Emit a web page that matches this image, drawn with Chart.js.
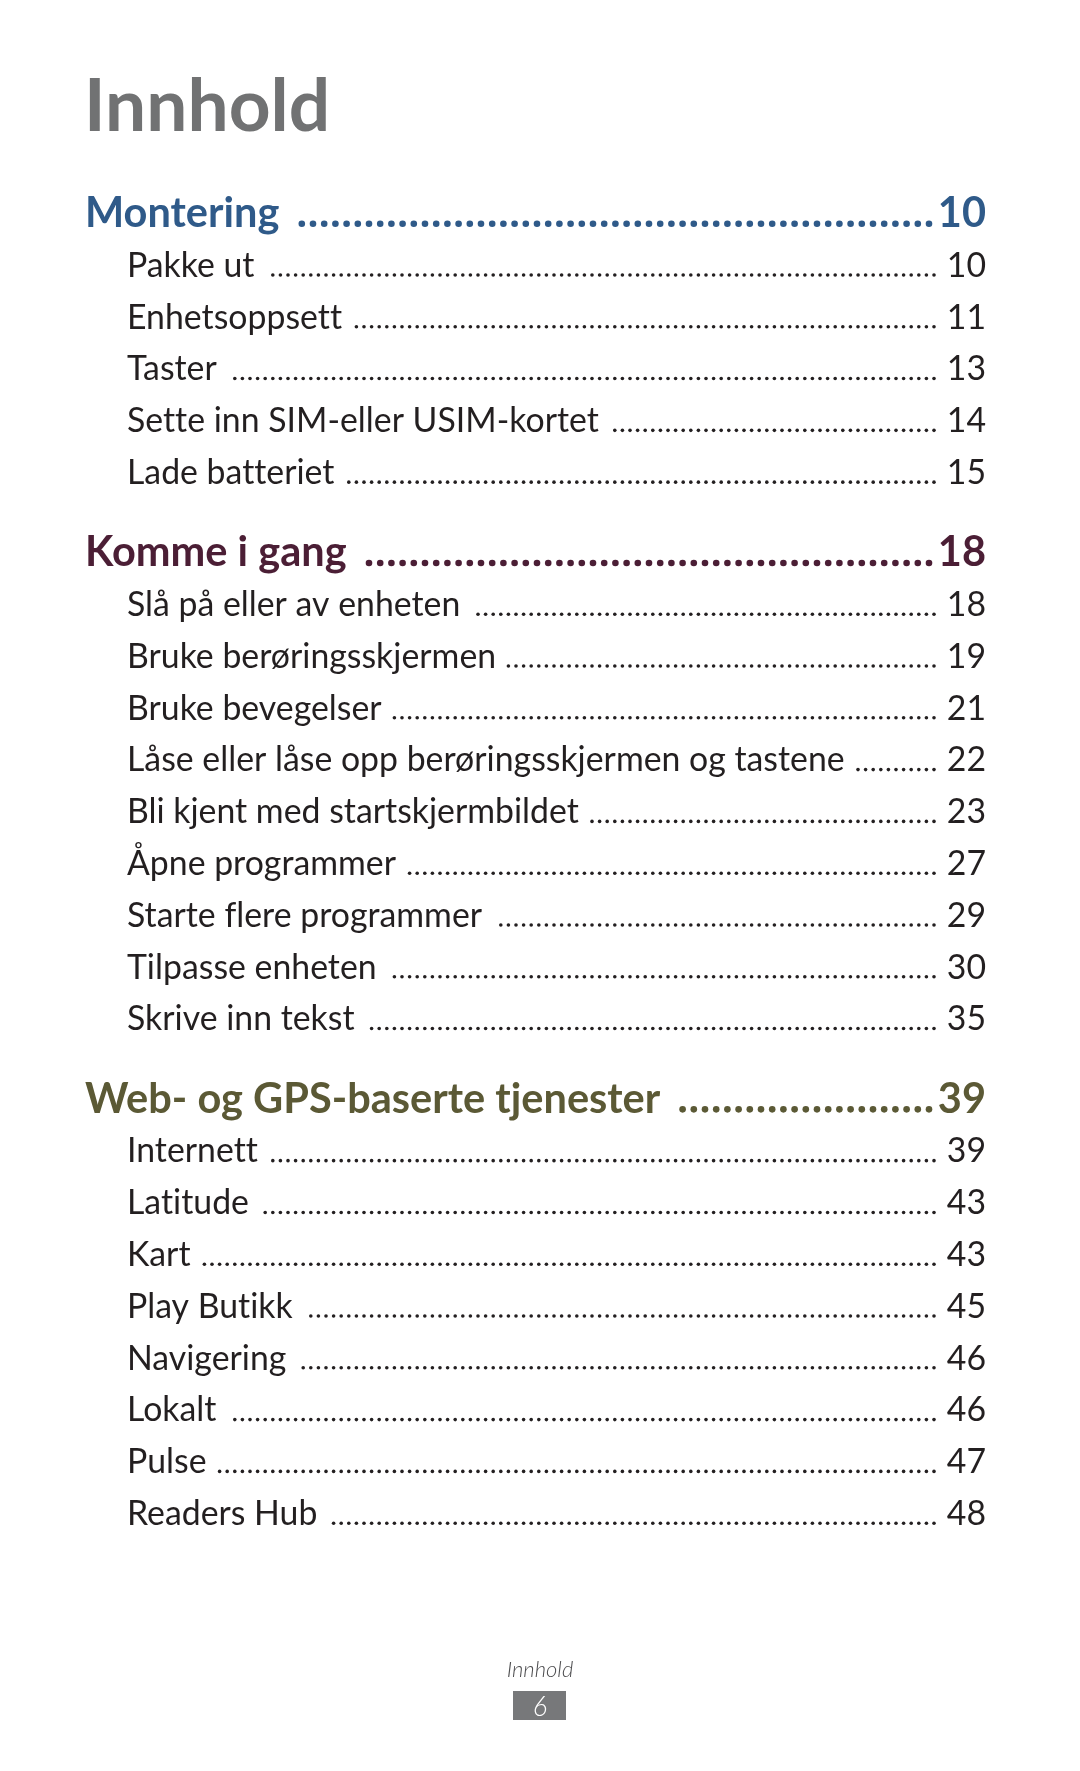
<!DOCTYPE html>
<html>
<head>
<meta charset="utf-8">
<title>Innhold</title>
<script src="https://cdn.jsdelivr.net/npm/chart.js@4.4.1/dist/chart.umd.min.js"></script>
<style>
  html, body { margin: 0; padding: 0; background: #ffffff; }
  #wrap { width: 1080px; height: 1771px; }
</style>
</head>
<body>
<div id="wrap"><canvas id="toc" width="1080" height="1771"></canvas></div>
<script>
// table of contents data
var pageTitle = 'Innhold';
var footerLabel = 'Innhold';
var pageNumber = '6';

var sectionTitles = ['Montering', 'Komme i gang', 'Web- og GPS-baserte tjenester'];
var sectionPages = [10, 18, 39];

var monteringItems = ['Pakke ut', 'Enhetsoppsett', 'Taster', 'Sette inn SIM-eller USIM-kortet', 'Lade batteriet'];
var monteringPages = [10, 11, 13, 14, 15];

var kommeItems = ['Slå på eller av enheten', 'Bruke berøringsskjermen', 'Bruke bevegelser',
  'Låse eller låse opp berøringsskjermen og tastene', 'Bli kjent med startskjermbildet',
  'Åpne programmer', 'Starte flere programmer', 'Tilpasse enheten', 'Skrive inn tekst'];
var kommePages = [18, 19, 21, 22, 23, 27, 29, 30, 35];

var webItems = ['Internett', 'Latitude', 'Kart', 'Play Butikk', 'Navigering', 'Lokalt', 'Pulse', 'Readers Hub'];
var webPages = [39, 43, 43, 45, 46, 46, 47, 48];

var sectionColors = ['#2f5a89', '#4b1e35', '#5b5935'];
var FONT = 'Lato, "Open Sans", sans-serif';

// one row per line, section headers get a little extra room above
var itemLists = [monteringItems, kommeItems, webItems];
var pageLists = [monteringPages, kommePages, webPages];
var rows = [];
var pos = 0;
sectionTitles.forEach(function (title, s) {
  if (s > 0) pos += 1.55;
  rows.push({ label: title, page: sectionPages[s], header: true, section: s, y: pos });
  itemLists[s].forEach(function (item, i) {
    pos += 1;
    rows.push({ label: item, page: pageLists[s][i], header: false, section: s, y: pos });
  });
});

var tocPlugin = {
  id: 'toc',
  afterDraw: function (chart) {
    var ctx = chart.ctx;
    var xs = chart.scales.x;
    var ys = chart.scales.y;
    ctx.save();
    ctx.textBaseline = 'alphabetic';
    // tiny spacing keeps Lato from joining "tt" / "ti"
    if ('letterSpacing' in ctx) ctx.letterSpacing = '0.01px';

    // page title
    ctx.font = 'bold 73px ' + FONT;
    ctx.fillStyle = '#717273';
    ctx.textAlign = 'left';
    ctx.fillText(pageTitle, xs.getPixelForValue(84), 131);

    var right = xs.getPixelForValue(986);
    rows.forEach(function (r) {
      var base = ys.getPixelForValue(r.y) + (r.header ? 2 : 0);
      var left = xs.getPixelForValue(r.header ? 85 : 127);
      ctx.fillStyle = r.header ? sectionColors[r.section] : '#231f20';
      ctx.font = (r.header ? 'bold 41.5px ' : '33.8px ') + FONT;
      ctx.textAlign = 'left';
      ctx.fillText(r.label, left, base);
      var textEnd = left + ctx.measureText(r.label).width;
      ctx.textAlign = 'right';
      ctx.fillText(String(r.page), right, base);

      // dot leader
      var step = r.header ? 11.2 : 7.6;
      var rad = r.header ? 3.3 : 1.8;
      var lastX = r.header ? 929 : 934;
      var startX = textEnd + (r.header ? 15 : 12);
      for (var x = lastX; x >= startX; x -= step) {
        ctx.beginPath();
        ctx.arc(x, base - rad, rad, 0, Math.PI * 2);
        ctx.fill();
      }
    });

    // footer
    ctx.textAlign = 'center';
    ctx.fillStyle = '#4d4d4f';
    ctx.font = 'italic 300 22px ' + FONT;
    ctx.fillText(footerLabel, 540, 1677);
    ctx.fillStyle = '#77787a';
    ctx.fillRect(513, 1691, 53, 29);
    ctx.fillStyle = '#ffffff';
    ctx.font = 'italic 300 27px ' + FONT;
    ctx.fillText(pageNumber, 540, 1716);
    ctx.restore();
  }
};

new Chart(document.getElementById('toc').getContext('2d'), {
  type: 'scatter',
  plugins: [tocPlugin],
  data: {
    datasets: [{
      data: rows.map(function (r) { return { x: r.header ? 85 : 127, y: r.y }; }),
      pointRadius: 0,
      showLine: false
    }]
  },
  options: {
    responsive: false,
    animation: false,
    devicePixelRatio: 1,
    layout: { padding: 0 },
    plugins: {
      legend: { display: false },
      tooltip: { enabled: false }
    },
    scales: {
      x: { type: 'linear', min: 0, max: 1080, display: false },
      y: { type: 'linear', reverse: true, min: -4.344, max: 29.85, display: false }
    }
  }
});
</script>
</body>
</html>
